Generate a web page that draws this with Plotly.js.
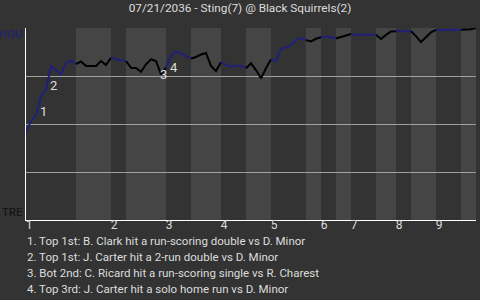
<!DOCTYPE html>
<html>
<head>
<meta charset="utf-8">
<script src="https://cdn.plot.ly/plotly-3.0.1.min.js"></script>
<style>
html,body{margin:0;padding:0;background:#333333;}
</style>
</head>
<body>
<div id="chart" style="width:480px;height:300px;"></div>
<script>
const chartTitle = "07/21/2036 - Sting(7) @ Black Squirrels(2)";
const awayLabel = "HOU";
const homeLabel = "TRE";
// win probability for the team shown at top, one value per plate appearance
const winProb = [
  0.456, 0.516, 0.544, 0.646, 0.677, 0.802, 0.781, 0.758, 0.818, 0.831,
  0.812, 0.826, 0.802, 0.802, 0.802, 0.828, 0.807, 0.845, 0.837, 0.831,
  0.828, 0.793, 0.792, 0.772, 0.811, 0.837, 0.828, 0.758, 0.794, 0.857,
  0.877, 0.868, 0.854, 0.841, 0.849, 0.862, 0.870, 0.802, 0.776, 0.821,
  0.807, 0.797, 0.804, 0.804, 0.790, 0.816, 0.781, 0.738, 0.790, 0.837,
  0.828, 0.893, 0.898, 0.911, 0.937, 0.946, 0.937, 0.930, 0.944, 0.952,
  0.956, 0.951, 0.945, 0.953, 0.960, 0.969, 0.965, 0.965, 0.965, 0.965,
  0.965, 0.943, 0.964, 0.982, 0.983, 0.983, 0.983, 0.983, 0.958, 0.927,
  0.953, 0.978, 0.990, 0.991, 0.991, 0.991, 0.991, 0.991, 0.991, 0.994,
  1.000
];
// index of the last plate appearance of each half inning
const halfInningEnds = [0, 10, 17, 20, 28, 33, 39, 44, 49, 56, 59, 62, 65, 70, 74, 77, 82, 87, 90];
const inningLabels = ["1", "2", "3", "4", "5", "6", "7", "8", "9"];
const eventIndex = [3, 5, 27, 29];
const eventLabels = ["1", "2", "3", "4"];
const eventTexts = [
  "1. Top 1st: B. Clark hit a run-scoring double vs D. Minor",
  "2. Top 1st: J. Carter hit a 2-run double vs D. Minor",
  "3. Bot 2nd: C. Ricard hit a run-scoring single vs R. Charest",
  "4. Top 3rd: J. Carter hit a solo home run vs D. Minor"
];

const FONT = "Roboto, 'Liberation Sans', sans-serif";
const BLUE = "#20207a";
const TXT = "#dddddd";

const traces = [];
const shapes = [];
for (let h = 0; h < halfInningEnds.length - 1; h++) {
  const a = halfInningEnds[h], b = halfInningEnds[h + 1];
  const xs = [], ys = [];
  for (let i = a; i <= b; i++) { xs.push(i); ys.push(winProb[i]); }
  const top = h % 2 === 0;
  traces.push({
    x: xs, y: ys, type: "scatter", mode: "lines",
    line: {color: top ? BLUE : "#000000", width: 2},
    hoverinfo: "skip", showlegend: false
  });
  shapes.push({
    type: "rect", xref: "x", yref: "paper", x0: a, x1: b, y0: 0, y1: 1,
    fillcolor: top ? "#333333" : "#454545", line: {width: 0}, layer: "below"
  });
}

const tickVals = [];
for (let i = 0; i < inningLabels.length; i++) tickVals.push(halfInningEnds[2 * i] + 0.6);

const eventShiftY = [-15.7, -19, 0, -12];
const annotations = [];
eventIndex.forEach((idx, i) => {
  annotations.push({
    x: idx + 0.5, y: winProb[idx], xref: "x", yref: "y",
    text: eventLabels[i], showarrow: false, yshift: eventShiftY[i],
    font: {family: FONT, size: 13, color: TXT}
  });
});
annotations.push({
  xref: "paper", yref: "paper", x: 0, y: 0.969, xanchor: "right", yanchor: "middle",
  xshift: -1, text: awayLabel, showarrow: false, font: {family: FONT, size: 11.5, color: BLUE}
});
annotations.push({
  xref: "paper", yref: "paper", x: 0, y: 0.042, xanchor: "right", yanchor: "middle",
  xshift: -1, text: homeLabel, showarrow: false, font: {family: FONT, size: 11.5, color: "#111111"}
});
eventTexts.forEach((t, i) => {
  annotations.push({
    xref: "paper", yref: "paper", x: 0, y: -0.109 - i * 0.0835,
    xanchor: "left", yanchor: "middle", xshift: -1,
    text: t, showarrow: false, font: {family: FONT, size: 11.5, color: TXT}
  });
});

const layout = {
  width: 480, height: 300,
  paper_bgcolor: "#333333", plot_bgcolor: "#333333",
  margin: {l: 25.7, r: 4, t: 28, b: 80},
  title: {text: chartTitle, font: {family: FONT, size: 11.8, color: TXT}, x: 0.5, xanchor: "center", y: 0.973, yanchor: "middle"},
  xaxis: {
    range: [0, 90], showgrid: false, zeroline: false,
    showline: true, linecolor: "#ffffff", linewidth: 1,
    tickmode: "array", tickvals: tickVals, ticktext: inningLabels, ticklabelstandoff: -6,
    ticks: "", tickfont: {family: FONT, size: 12, color: TXT}, fixedrange: true
  },
  yaxis: {
    range: [0, 1], showgrid: true, gridcolor: "#a0a0a0", gridwidth: 1,
    tickmode: "array", tickvals: [0.25, 0.5, 0.75, 1], showticklabels: false,
    zeroline: false, showline: true, linecolor: "#ffffff", linewidth: 1, ticks: "", fixedrange: true
  },
  shapes: shapes,
  annotations: annotations
};
Plotly.newPlot("chart", traces, layout, {displayModeBar: false, staticPlot: true});
</script>
</body>
</html>
